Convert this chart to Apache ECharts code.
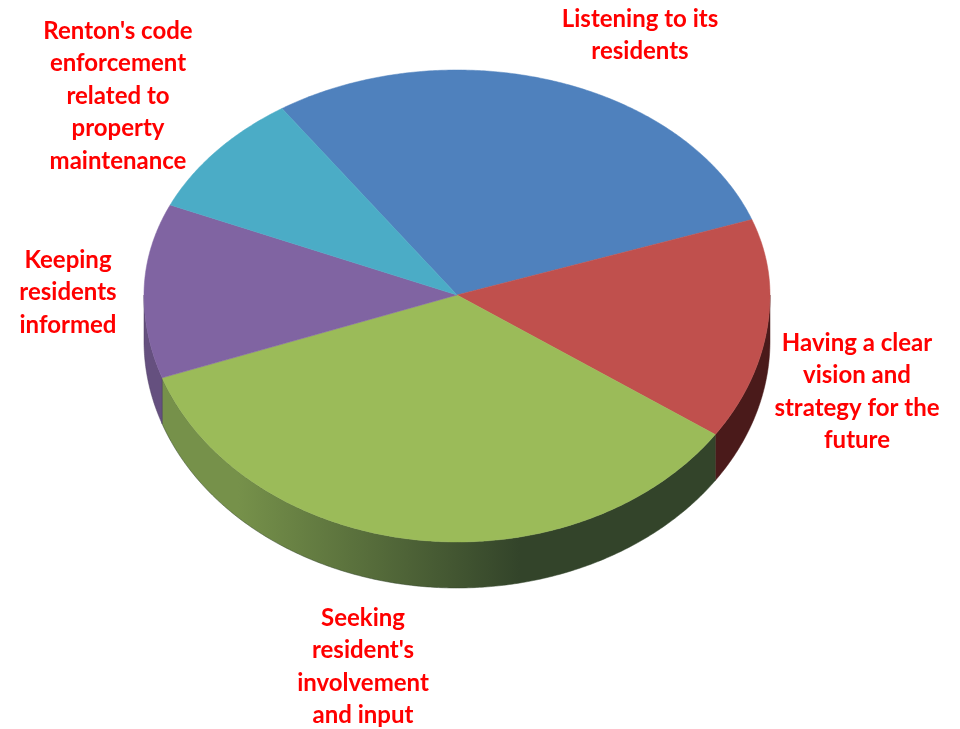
<!DOCTYPE html>
<html>
<head>
<meta charset="utf-8">
<script src="https://cdn.jsdelivr.net/npm/echarts@6/dist/echarts.min.js"></script>
<style>
  html, body { margin: 0; padding: 0; background: #fff; }
  #chart { width: 960px; height: 729px; }
</style>
</head>
<body>
<div id="chart"></div>
<script>
// Survey priorities, shown as a tilted 3D pie
const categories = [
  "Listening to its residents",
  "Having a clear vision and strategy for the future",
  "Seeking resident's involvement and input",
  "Keeping residents informed",
  "Renton's code enforcement related to property maintenance"
];
const shares = [29, 15, 35, 12, 9];
const labelLines = [
  "Listening to its\nresidents",
  "Having a clear\nvision and\nstrategy for the\nfuture",
  "Seeking\nresident's\ninvolvement\nand input",
  "Keeping\nresidents\ninformed",
  "Renton's code\nenforcement\nrelated to\nproperty\nmaintenance"
];
const topColors = ["#4f81bd", "#c0504d", "#9bbb59", "#8064a2", "#4bacc6"];
const sideColors = [
  ["#3a5f8c", "#2c4a6e"],
  ["#6a2525", "#4a1a1a"],
  ["#76914a", "#33442a"],
  ["#65507f", "#4e3e63"],
  ["#357f93", "#2a6473"]
];

// pie geometry (screen pixels)
const CX = 457, CY = 295, RX = 313, RY_TOP = 225, RY_BOTTOM = 247, DEPTH = 46;
const START_DEG = 236; // first slice edge, measured clockwise from 3 o'clock

const total = shares.reduce((a, b) => a + b, 0);

function rimPoint(deg, drop) {
  const a = deg * Math.PI / 180;
  const s = Math.sin(a);
  const ry = s < 0 ? RY_TOP : RY_BOTTOM;
  return [CX + RX * Math.cos(a), CY + ry * s + (drop || 0)];
}

function arc(fromDeg, toDeg, drop) {
  const pts = [];
  const steps = Math.max(2, Math.ceil((toDeg - fromDeg) / 0.5));
  for (let k = 0; k <= steps; k++) {
    pts.push(rimPoint(fromDeg + (toDeg - fromDeg) * k / steps, drop));
  }
  return pts;
}

function renderSlice(params, api) {
  const i = params.dataIndex;
  let before = 0;
  for (let k = 0; k < i; k++) before += shares[k];
  const value = api.value(0);
  const a0 = START_DEG + before / total * 360;
  const a1 = a0 + value / total * 360;

  const children = [];

  // front wall: the parts of the slice rim that face the viewer (0..180 deg, mod 360)
  const n0 = ((a0 % 360) + 360) % 360;
  const n1 = n0 + (a1 - a0);
  [[0, 180], [360, 540]].forEach(function (win) {
    const s = Math.max(n0, win[0]);
    const e = Math.min(n1, win[1]);
    if (e > s) {
      const upper = arc(s, e, 0);
      const lower = arc(s, e, DEPTH).reverse();
      children.push({
        type: 'polygon',
        z2: 1,
        shape: { points: upper.concat(lower) },
        style: {
          fill: new echarts.graphic.LinearGradient(CX - RX, 0, CX + RX, 0, [
            { offset: 0, color: sideColors[i][0] },
            { offset: 0.15, color: sideColors[i][0] },
            { offset: 0.6, color: sideColors[i][1] },
            { offset: 1, color: sideColors[i][1] }
          ], true),
          stroke: sideColors[i][1],
          lineWidth: 0.5
        }
      });
    }
  });

  // top face
  children.push({
    type: 'polygon',
    z2: 2,
    shape: { points: [[CX, CY]].concat(arc(a0, a1, 0)) },
    style: { fill: topColors[i], stroke: topColors[i], lineWidth: 0.5 }
  });

  return { type: 'group', children: children };
}

const labelAnchors = [
  [640, 3], [857, 327], [363, 602], [68, 244], [118, 15]
];

const chart = echarts.init(document.getElementById('chart'), null, { renderer: 'canvas' });
chart.setOption({
  backgroundColor: '#ffffff',
  animation: false,
  series: [{
    type: 'custom',
    coordinateSystem: 'none',
    renderItem: renderSlice,
    data: shares.map((v, i) => ({ name: categories[i], value: [v] }))
  }],
  graphic: labelLines.map((txt, i) => ({
    type: 'text',
    x: labelAnchors[i][0],
    y: labelAnchors[i][1],
    z: 10,
    style: {
      text: txt,
      fill: '#ff0000',
      font: 'bold 24px Lato, "Open Sans", sans-serif',
      lineHeight: 32.5,
      textAlign: 'center',
      textVerticalAlign: 'top'
    }
  }))
});
</script>
</body>
</html>
